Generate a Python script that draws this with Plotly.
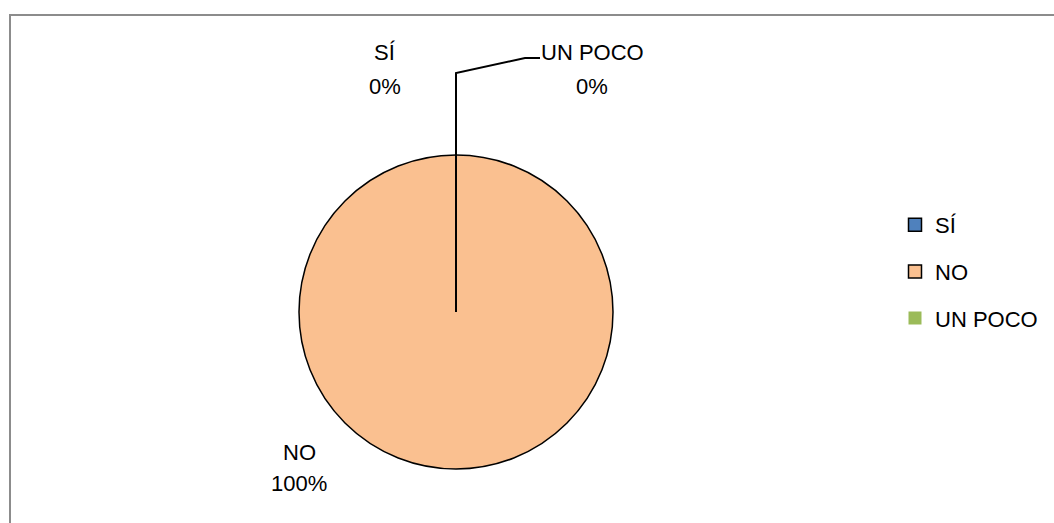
import plotly.graph_objects as go

labels = ["SÍ", "NO", "UN POCO"]
values = [0, 100, 0]
colors = ["#4F81BD", "#FAC090", "#9BBB59"]
outline_widths = [1.5, 1.5, 0]

W, H = 1054, 523
FONT = "Liberation Sans"
FS = 22

total = sum(values)
pcts = [v / total * 100 for v in values]

fig = go.Figure()

# pie
cx, cy, r = 456, 312, 157
fig.add_trace(go.Pie(
    labels=labels, values=values, sort=False, direction="clockwise", rotation=0,
    marker=dict(colors=colors, line=dict(color="black", width=outline_widths)),
    textinfo="none", hoverinfo="label+percent", showlegend=False,
    domain=dict(x=[(cx - r) / W, (cx + r) / W], y=[(H - cy - r) / H, (H - cy + r) / H]),
))

# legend entries
for i, (lab, col, lw) in enumerate(zip(labels, colors, outline_widths)):
    fig.add_trace(go.Scatter(
        x=[None], y=[None], mode="markers", name=lab, legendgroup=lab,
        marker=dict(symbol="square", size=13, color=col, line=dict(color="black", width=lw)),
    ))

# data labels
label_pos = {"SÍ": (385, 53, 87), "NO": (299, 452, 483), "UN POCO": (592, 53, 87)}
for lab, p in zip(labels, pcts):
    x, y1, y2 = label_pos[lab]
    fig.add_annotation(x=x / W, y=1 - y1 / H, xref="paper", yref="paper", text=lab,
                       showarrow=False, font=dict(family=FONT, size=FS, color="#000"),
                       xanchor="center", yanchor="middle")
    fig.add_annotation(x=x / W, y=1 - y2 / H, xref="paper", yref="paper", text=f"{p:.0f}%",
                       showarrow=False, font=dict(family=FONT, size=FS, color="#000"),
                       xanchor="center", yanchor="middle")

# leader line
path = (f"M {cx / W},{1 - cy / H} L {cx / W},{1 - 73 / H} "
        f"L {525 / W},{1 - 58 / H} L {540 / W},{1 - 58 / H}")
fig.add_shape(type="path", path=path, xref="paper", yref="paper",
              line=dict(color="black", width=2))

# chart frame
fig.add_shape(type="rect", xref="paper", yref="paper",
              x0=10 / W, x1=1.05, y0=-0.05, y1=1 - 15 / H,
              line=dict(color="#8C8C8C", width=2), fillcolor="rgba(0,0,0,0)", layer="below")

fig.update_layout(
    width=W, height=H, margin=dict(l=0, r=0, t=0, b=0),
    paper_bgcolor="white", plot_bgcolor="white",
    xaxis=dict(visible=False), yaxis=dict(visible=False),
    showlegend=True,
    legend=dict(x=895 / W, y=1 - 271.5 / H, xanchor="left", yanchor="middle",
                font=dict(family=FONT, size=FS, color="#000"), tracegroupgap=15,
                bgcolor="rgba(0,0,0,0)"),
)

fig.write_html("out.html", config={"displayModeBar": False},
               post_script="document.body.style.margin='0';")
